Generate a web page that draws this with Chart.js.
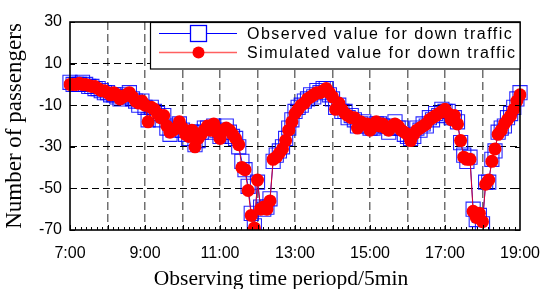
<!DOCTYPE html>
<html>
<head>
<meta charset="utf-8">
<script src="https://cdn.jsdelivr.net/npm/chart.js@4.4.1/dist/chart.umd.min.js"></script>
<style>
html,body{margin:0;padding:0;background:#fff;}
#wrap{position:relative;width:543px;height:289px;}
</style>
</head>
<body>
<div id="wrap"><canvas id="c" width="543" height="289"></canvas></div>
<script>
// ---- data ----
const startHour = 7;
const endHour = 19;
const times = [];
for (let h = startHour; h <= endHour; h++) {
  for (let m = 0; m < 60; m += 5) {
    if (h === endHour && m > 0) break;
    times.push(h + ':' + (m < 10 ? '0' + m : m));
  }
}
const tickLabels = ['7:00', '9:00', '11:00', '13:00', '15:00', '17:00', '19:00'];
const yTicks = [-70, -50, -30, -10, 10, 30];

const observed = [
  1, 0, 0, 0, 1, 0, -1, -1, -2, -2, -3, -4,
  -4, -5, -5, -6, -7, -5, -6, -4, -7, -8, -10, -8,
  -11, -17, -11, -13, -14, -17, -15, -21, -24, -22, -20, -19,
  -22, -24, -26, -23, -29, -27, -23, -21, -21, -23, -20, -22,
  -25, -23, -20, -23, -25, -26, -30, -37, -41, -49, -62, -68,
  -47, -59, -60, -59, -55, -37, -34, -32, -30, -26, -21, -17,
  -13, -11, -10, -8, -7, -5, -6, -3, -4, -2, -2, -5,
  -7, -11, -10, -13, -13, -16, -15, -17, -20, -19, -18, -20,
  -21, -21, -19, -19, -20, -20, -23, -21, -18, -21, -21, -24,
  -25, -26, -25, -21, -22, -19, -20, -16, -17, -14, -15, -12,
  -13, -13, -16, -16, -18, -28, -34, -37, -35, -60, -65, -63,
  -67, -47, -47, -36, -32, -23, -21, -20, -16, -14, -11, -7, -4
];
const simulated = [
  0, 0, 0, 0.5, 0, 0, -0.5, -1, -1, -2, -3, -3,
  -4, -5, -4, -5, -7, -6, -5, -4, -6, -8, -9, -8,
  -10, -18, -11, -12, -14, -16, -15, -20, -23, -22, -21, -18,
  -21, -24, -25, -22, -30, -26, -24, -22, -20, -22, -19, -23,
  -26, -22, -21, -22, -24, -26, -29, -40, -41, -51, -63, -69,
  -46, -60, -59, -60, -56, -36, -35, -33, -31, -27, -22, -18,
  -14, -12, -10, -9, -7, -6, -5, -4, -4, -3, -2, -4,
  -6, -12, -9, -12, -14, -15, -16, -16, -21, -18, -19, -19,
  -22, -20, -18, -20, -19, -21, -22, -20, -19, -20, -22, -23,
  -24, -27, -24, -22, -21, -20, -19, -17, -16, -15, -14, -13,
  -12, -14, -17, -15, -19, -27, -35, -36, -36, -61, -64, -62,
  -66, -48, -46, -37, -31, -24, -22, -19, -17, -15, -12, -8, -5
];
const seriesNames = ['Observed value for down traffic', 'Simulated value for down traffic'];
const xTitle = 'Observing time periopd/5min';
const yTitle = 'Number of passengers';

const FONT_SANS = '"Liberation Sans", Arial, sans-serif';
const FONT_SERIF = '"Liberation Serif", "Times New Roman", serif';

const framePlugin = {
  id: 'frame',
  afterDraw(chart) {
    const ctx = chart.ctx;
    const a = chart.chartArea;
    const xs = chart.scales.x, ys = chart.scales.y;
    ctx.save();
    ctx.strokeStyle = '#000';
    ctx.lineWidth = 1;
    for (let h = 0; h < endHour - startHour; h++) {
      for (let k = 0; k < 7; k++) {
        const v = h * 12 + k * 12 / 7;
        const px = Math.round(xs.getPixelForValue(v)) + 0.5;
        const len = k === 0 ? 5 : 3;
        ctx.beginPath();
        ctx.moveTo(px, a.bottom);
        ctx.lineTo(px, a.bottom - len);
        ctx.stroke();
      }
    }
    yTicks.forEach(v => {
      const py = Math.round(ys.getPixelForValue(v)) + 0.5;
      ctx.beginPath();
      ctx.moveTo(a.left, py); ctx.lineTo(a.left + 5, py);
      ctx.moveTo(a.right, py); ctx.lineTo(a.right - 5, py);
      ctx.stroke();
    });
    ctx.lineWidth = 1.6;
    ctx.strokeRect(a.left, a.top, a.right - a.left, a.bottom - a.top);

    // legend
    const lx = 150, ly = a.top, lw = a.right - 150, lh = 47;
    ctx.fillStyle = '#fff';
    ctx.fillRect(lx, ly, lw, lh);
    ctx.lineWidth = 1.2;
    ctx.strokeStyle = '#000';
    ctx.strokeRect(lx + 0.5, ly + 0.5, lw - 0.5, lh - 0.5);
    const r1 = ly + 11.5, r2 = ly + 30.5;
    ctx.strokeStyle = '#0000ff';
    ctx.lineWidth = 1;
    ctx.beginPath(); ctx.moveTo(159, r1); ctx.lineTo(237, r1); ctx.stroke();
    ctx.fillStyle = '#fff';
    ctx.fillRect(190.5, r1 - 8, 16, 16);
    ctx.lineWidth = 1.3;
    ctx.strokeRect(190.5, r1 - 8, 16, 16);
    ctx.strokeStyle = '#ff6060';
    ctx.lineWidth = 1.5;
    ctx.beginPath(); ctx.moveTo(159, r2); ctx.lineTo(237, r2); ctx.stroke();
    ctx.fillStyle = '#ff0000';
    ctx.beginPath(); ctx.arc(198.5, r2, 6, 0, Math.PI * 2); ctx.fill();
    ctx.fillStyle = '#000';
    ctx.font = '16px ' + FONT_SANS;
    ctx.textBaseline = 'middle';
    ctx.textAlign = 'left';
    try { ctx.letterSpacing = '1.45px'; } catch (e) {}
    ctx.fillText(seriesNames[0], 247, r1 + 1);
    ctx.fillText(seriesNames[1], 247, r2 + 1);
    try { ctx.letterSpacing = '0px'; } catch (e) {}

    // x axis title
    ctx.font = '21.5px ' + FONT_SERIF;
    ctx.textAlign = 'center';
    ctx.textBaseline = 'alphabetic';
    ctx.fillText(xTitle, 281, 285);
    ctx.restore();
  }
};

new Chart(document.getElementById('c'), {
  type: 'line',
  data: {
    labels: times,
    datasets: [
      {
        label: seriesNames[0],
        data: observed,
        order: 2,
        borderColor: 'rgba(0,0,255,0.9)',
        borderWidth: 1,
        pointStyle: 'rect',
        pointRadius: 10,
        pointBorderWidth: 1.1,
        pointBorderColor: 'rgba(0,0,255,0.85)',
        pointBackgroundColor: 'rgba(0,0,0,0)',
        tension: 0
      },
      {
        label: seriesNames[1],
        data: simulated,
        order: 1,
        borderColor: '#d8002a',
        borderWidth: 1,
        pointStyle: 'circle',
        pointRadius: 6.5,
        pointBorderWidth: 0,
        pointBackgroundColor: '#ff0000',
        tension: 0
      }
    ]
  },
  options: {
    responsive: false,
    animation: false,
    devicePixelRatio: 1,
    layout: { padding: { top: 22, right: 23, left: 0, bottom: 0 } },
    plugins: { legend: { display: false }, tooltip: { enabled: false } },
    scales: {
      x: {
        type: 'category',
        offset: false,
        afterFit(s) {
          s.height = 59;
          s.paddingLeft = 0; s.paddingRight = 0;
        },
        grid: {
          drawTicks: false,
          color(c) {
            const i = c.index;
            if (i === 0 || i === times.length - 1) return 'rgba(0,0,0,0)';
            return i % 12 === 0 ? '#707070' : 'rgba(0,0,0,0)';
          },
          lineWidth: 1.5
        },
        border: { display: false, dash: [8, 4] },
        ticks: {
          autoSkip: false,
          maxRotation: 0,
          minRotation: 0,
          padding: 14,
          color: '#000',
          font: { family: FONT_SANS, size: 16 },
          callback(value, index) {
            return index % 24 === 0 ? tickLabels[index / 24] : '';
          }
        },
        title: { display: false }
      },
      y: {
        min: -70,
        max: 30,
        afterFit(s) { s.width = 70; s.paddingTop = 0; s.paddingBottom = 0; },
        afterBuildTicks(s) { s.ticks = yTicks.map(v => ({ value: v })); },
        grid: {
          drawTicks: false,
          color(c) {
            const v = c.tick && c.tick.value;
            return (v === -70 || v === 30) ? 'rgba(0,0,0,0)' : '#000';
          },
          lineWidth: 1
        },
        border: { display: false, dash: [7, 4] },
        ticks: {
          padding: 8,
          color: '#000',
          font: { family: FONT_SANS, size: 16 }
        },
        title: {
          display: true,
          text: yTitle,
          color: '#000',
          font: { family: FONT_SERIF, size: 23 },
          padding: { top: 1, bottom: 0 }
        }
      }
    }
  },
  plugins: [framePlugin]
});
</script>
</body>
</html>
